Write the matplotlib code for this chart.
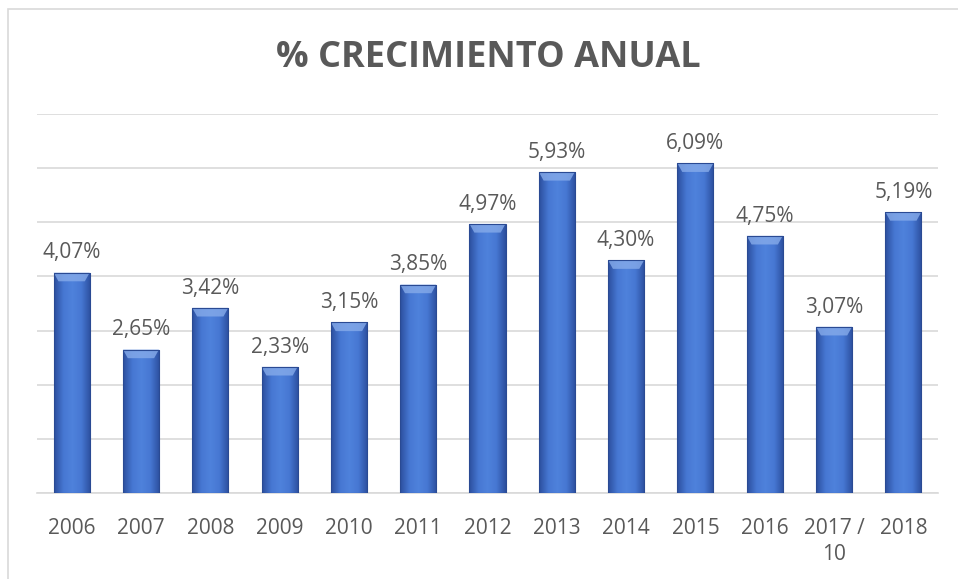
import numpy as np
import matplotlib.pyplot as plt
from matplotlib.colors import LinearSegmentedColormap
from matplotlib.patches import Rectangle, Polygon

# Crecimiento anual (%)
years = ['2006', '2007', '2008', '2009', '2010', '2011', '2012',
         '2013', '2014', '2015', '2016', '2017 /\n10', '2018']
growth = [4.07, 2.65, 3.42, 2.33, 3.15, 3.85, 4.97,
          5.93, 4.30, 6.09, 4.75, 3.07, 5.19]

plt.rcParams['font.family'] = ['Open Sans', 'DejaVu Sans']
text_color = '#595959'
grid_color = '#D9D9D9'

fig = plt.figure(figsize=(9.58, 5.79), dpi=100)
fig.patches.append(Rectangle((8 / 958, -0.1), 1.2, 1 - 9 / 579 + 0.1,
                             transform=fig.transFigure, fill=False,
                             edgecolor=grid_color, linewidth=1.2))

ax = fig.add_axes([37 / 958, 86 / 579, 901 / 958, 379 / 579])
x = np.arange(len(years))
width = 0.52

# degradado horizontal para las barras
cmap = LinearSegmentedColormap.from_list(
    'barra', ['#2C4F9E', '#4677D2', '#4F82DC', '#4677D2', '#2C4F9E'])
grad = np.linspace(0, 1, 64).reshape(1, -1)

bars = ax.bar(x, growth, width=width, color='#4472C4', zorder=2)
for bar, val in zip(bars, growth):
    x0 = bar.get_x()
    w = bar.get_width()
    im = ax.imshow(grad, cmap=cmap, aspect='auto', zorder=3,
                   extent=(x0, x0 + w, 0, val), interpolation='bicubic')
    im.set_clip_path(bar)
    # bisel superior
    d = 0.16
    ax.add_patch(Polygon([(x0, val), (x0 + w, val),
                          (x0 + w - 0.07, val - d), (x0 + 0.07, val - d)],
                         closed=True, facecolor='#86ABEA', edgecolor='none',
                         alpha=0.8, zorder=4))
    ax.add_patch(Rectangle((x0, 0), w, val, fill=False,
                           edgecolor='#2A4A93', linewidth=0.8, zorder=5))
    ax.text(bar.get_x() + w / 2, val + 0.17, f'{val:.2f}%'.replace('.', ','),
            ha='center', va='bottom', fontsize=15, color=text_color)

ax.set_xlim(-0.5, len(years) - 0.5)
ax.set_ylim(0, 7)
ax.set_yticks(np.arange(0, 8, 1))
ax.yaxis.grid(True, color=grid_color, linewidth=1.2, zorder=0)
ax.set_axisbelow(True)
ax.tick_params(axis='y', left=False, labelleft=False)
ax.set_xticks(x)
ax.set_xticklabels(years, fontsize=15, color=text_color, linespacing=1.3,
                   va='top')
ax.tick_params(axis='x', length=0, pad=18)
for side in ['top', 'right', 'left']:
    ax.spines[side].set_visible(False)
ax.spines['bottom'].set_color(grid_color)
ax.spines['bottom'].set_linewidth(1.2)

fig.text(488 / 958, 1 - 58 / 579, '% CRECIMIENTO ANUAL', ha='center',
         va='center', fontsize=26, fontweight='bold', color=text_color)

fig.savefig('out.png', dpi=100)
